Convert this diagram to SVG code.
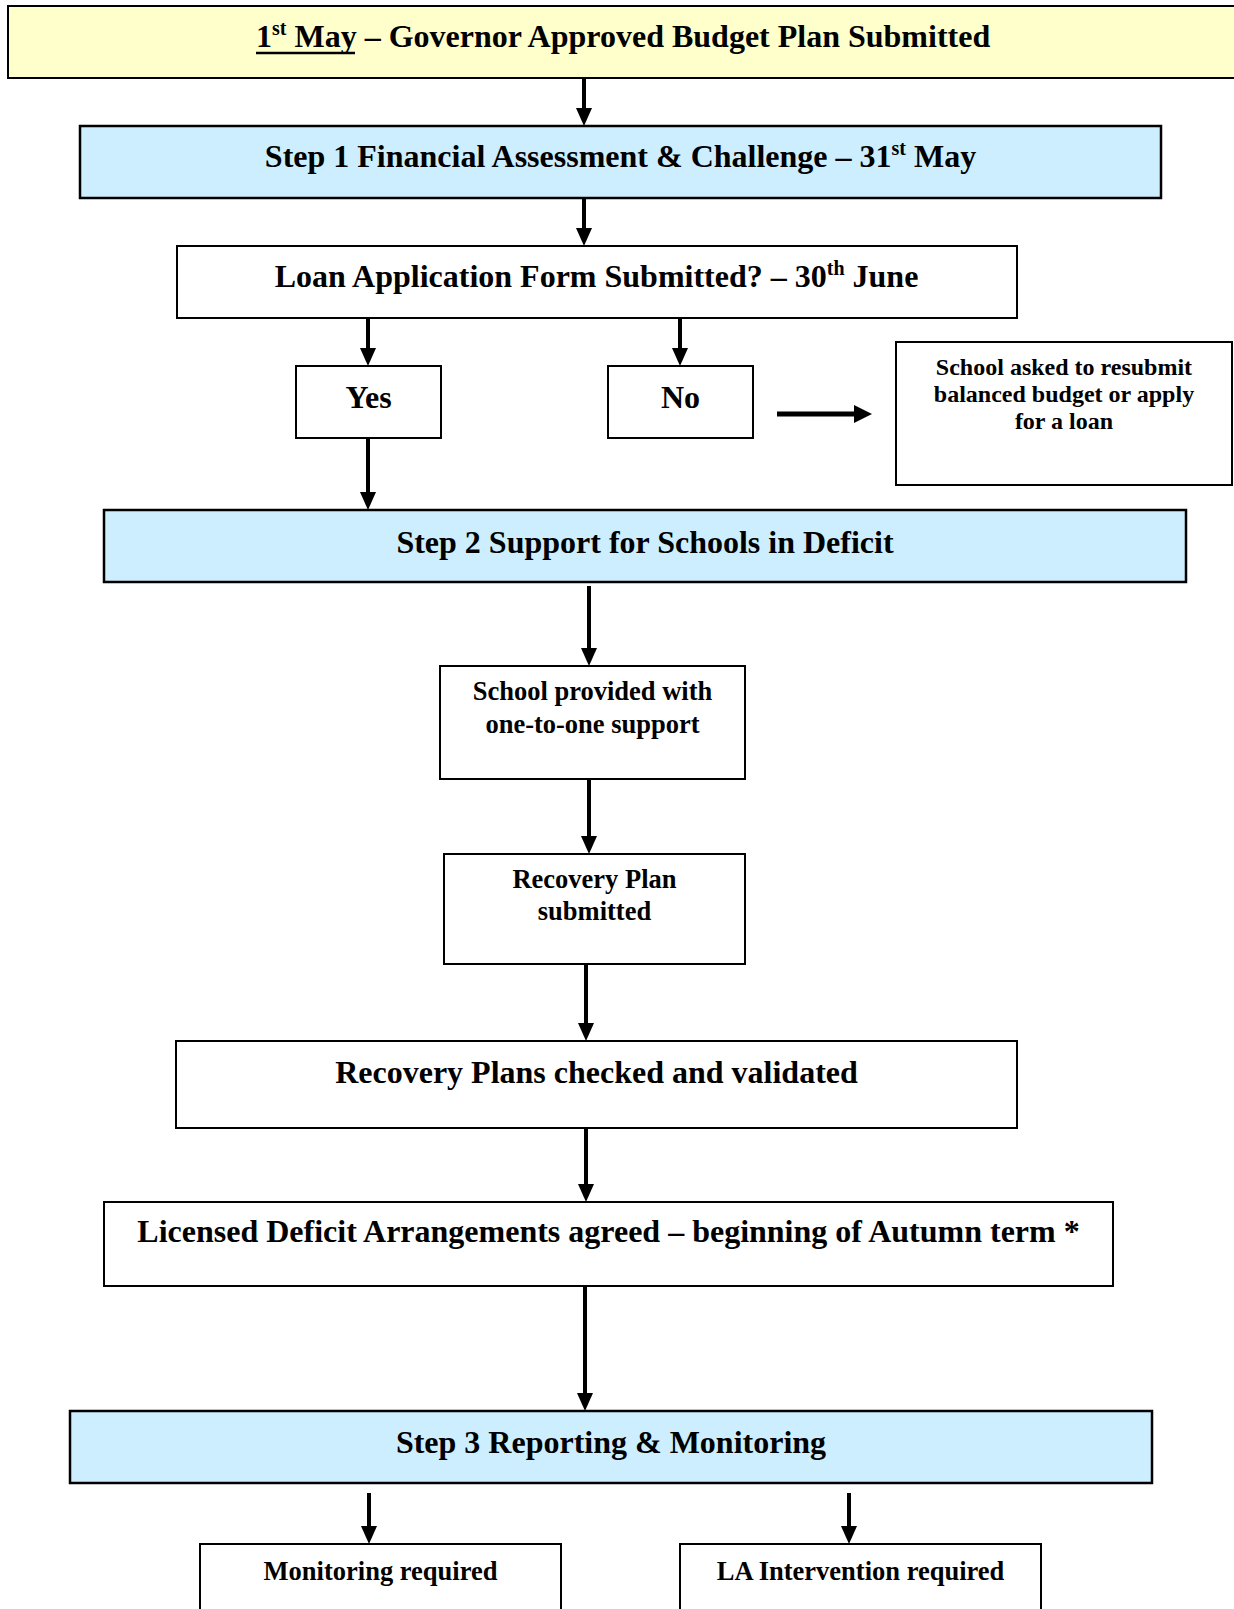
<svg xmlns="http://www.w3.org/2000/svg" width="1234" height="1609" viewBox="0 0 1234 1609">
<style>
.box{fill:#ffffff;stroke:#000;stroke-width:2}
.step{fill:#cceeff;stroke:#000;stroke-width:2.5}
.title{fill:#ffffcc;stroke:#000;stroke-width:2}
text{font-family:"Liberation Serif","Times New Roman",serif;font-weight:bold;fill:#000}
.t32{font-size:32px;text-anchor:middle}
.t27{font-size:26.5px;text-anchor:middle}
.t24{font-size:24px;text-anchor:middle}
.conn{stroke:#000;stroke-width:4;fill:none;marker-end:url(#ah)}
.connw{stroke:#000;stroke-width:5;fill:none;marker-end:url(#ahw)}
</style>
<defs>
<marker id="ah" markerUnits="userSpaceOnUse" markerWidth="18" markerHeight="16" viewBox="0 0 18 16" refX="0" refY="8" orient="auto">
<path d="M0,0 L18,8 L0,16 Z" fill="#000"/>
</marker>
<marker id="ahw" markerUnits="userSpaceOnUse" markerWidth="18" markerHeight="18" viewBox="0 0 18 18" refX="0" refY="9" orient="auto">
<path d="M0,0 L18,9 L0,18 Z" fill="#000"/>
</marker>
</defs>
<rect width="1234" height="1609" fill="#ffffff"/>

<g id="connectors">
<line class="conn" x1="584" y1="78" x2="584" y2="108"/>
<line class="conn" x1="584" y1="198" x2="584" y2="228"/>
<line class="conn" x1="368" y1="318" x2="368" y2="348"/>
<line class="conn" x1="680" y1="318" x2="680" y2="348"/>
<line class="connw" x1="777" y1="414" x2="854" y2="414"/>
<line class="conn" x1="368" y1="438" x2="368" y2="492"/>
<line class="conn" x1="589" y1="586" x2="589" y2="648"/>
<line class="conn" x1="589" y1="779" x2="589" y2="836"/>
<line class="conn" x1="586" y1="964" x2="586" y2="1023"/>
<line class="conn" x1="586" y1="1128" x2="586" y2="1184"/>
<line class="conn" x1="585" y1="1286" x2="585" y2="1393"/>
<line class="conn" x1="369" y1="1493" x2="369" y2="1526"/>
<line class="conn" x1="849" y1="1493" x2="849" y2="1526"/>
</g>

<g id="n-title">
<rect class="title" x="8" y="6" width="1240" height="72"/>
<text x="256" y="47" font-size="32px">1<tspan font-size="20px" dy="-12">st</tspan><tspan dy="12"> May – Governor Approved Budget Plan Submitted</tspan></text>
<line x1="256" y1="53" x2="355" y2="53" stroke="#000" stroke-width="2.5"/>
</g>

<g id="n-step1">
<rect class="step" x="80" y="126" width="1081" height="72"/>
<text class="t32" x="620.5" y="167">Step 1 Financial Assessment &amp; Challenge – 31<tspan font-size="20px" dy="-12">st</tspan><tspan dy="12"> May</tspan></text>
</g>

<g id="n-loan">
<rect class="box" x="177" y="246" width="840" height="72"/>
<text class="t32" x="596.5" y="287">Loan Application Form Submitted? – 30<tspan font-size="20px" dy="-12">th</tspan><tspan dy="12"> June</tspan></text>
</g>

<g id="n-yes">
<rect class="box" x="296" y="366" width="145" height="72"/>
<text class="t32" x="368.5" y="408">Yes</text>
</g>

<g id="n-no">
<rect class="box" x="608" y="366" width="145" height="72"/>
<text class="t32" x="680.5" y="408">No</text>
</g>

<g id="n-resubmit">
<rect class="box" x="896" y="342" width="336" height="143"/>
<text class="t24" x="1064" y="375">School asked to resubmit</text>
<text class="t24" x="1064" y="402">balanced budget or apply</text>
<text class="t24" x="1064" y="429">for a loan</text>
</g>

<g id="n-step2">
<rect class="step" x="104" y="510" width="1082" height="72"/>
<text class="t32" x="645" y="553">Step 2 Support for Schools in Deficit</text>
</g>

<g id="n-support">
<rect class="box" x="440" y="666" width="305" height="113"/>
<text class="t27" x="592.5" y="700">School provided with</text>
<text class="t27" x="592.5" y="733">one-to-one support</text>
</g>

<g id="n-recovery">
<rect class="box" x="444" y="854" width="301" height="110"/>
<text class="t27" x="594.5" y="888">Recovery Plan</text>
<text class="t27" x="594.5" y="920">submitted</text>
</g>

<g id="n-checked">
<rect class="box" x="176" y="1041" width="841" height="87"/>
<text class="t32" x="596.5" y="1083">Recovery Plans checked and validated</text>
</g>

<g id="n-licensed">
<rect class="box" x="104" y="1202" width="1009" height="84"/>
<text class="t32" x="608.5" y="1242">Licensed Deficit Arrangements agreed – beginning of Autumn term *</text>
</g>

<g id="n-step3">
<rect class="step" x="70" y="1411" width="1082" height="72"/>
<text class="t32" x="611" y="1453">Step 3 Reporting &amp; Monitoring</text>
</g>

<g id="n-monitoring">
<rect class="box" x="200" y="1544" width="361" height="80"/>
<text class="t27" x="380.5" y="1580">Monitoring required</text>
</g>

<g id="n-intervention">
<rect class="box" x="680" y="1544" width="361" height="80"/>
<text class="t27" x="860.5" y="1580">LA Intervention required</text>
</g>
</svg>
